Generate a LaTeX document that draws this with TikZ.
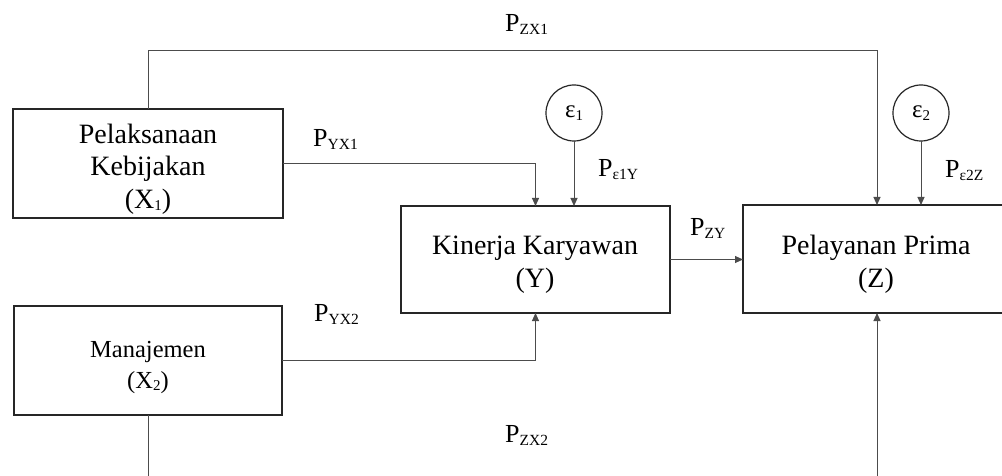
\documentclass[tikz,border=0pt]{standalone}
\usepackage{fontspec}
\setmainfont{Liberation Serif}
\usetikzlibrary{arrows.meta}
\newcommand{\plab}[1]{{\fontsize{26}{26}\selectfont P}\raisebox{-3pt}{\fontsize{15.5}{15.5}\selectfont #1}}
\newcommand{\subn}[1]{\raisebox{-2pt}{\fontsize{15}{15}\selectfont #1}}
\begin{document}
\begin{tikzpicture}[x=1pt,y=-1pt,
  box/.style={draw=black!85,line width=1.5pt,rectangle,inner sep=0pt,outer sep=0pt},
  boxtext/.style={align=center,inner sep=0pt,font=\fontsize{28}{32.5}\selectfont},
  errc/.style={draw=black!85,line width=1.2pt,circle,minimum size=56pt,inner sep=0pt,outer sep=0pt},
  conn/.style={draw=black!70,line width=1pt},
  arr/.style={conn,-{Triangle[length=8pt,width=7pt]}},
  lab/.style={anchor=base west,inner sep=0pt}]
\clip (0,0) rectangle (1002,476);
\fill[white] (0,0) rectangle (1002,476);

% boxes
\node[box,minimum width=270pt,minimum height=109pt] (x1) at (148,163.5) {};
\node[box,minimum width=268pt,minimum height=109pt] (x2) at (148,360.5) {};
\node[box,minimum width=269pt,minimum height=107pt] (y) at (535.5,259.5) {};
\node[box,minimum width=268pt,minimum height=108pt] (z) at (877,259) {};

% box texts
\node[boxtext] (x1t) at (148,169) {Pelaksanaan\\Kebijakan\\(X\subn{1})};
\node[boxtext,font=\fontsize{24.5}{31}\selectfont] (x2t) at (148,367) {Manajemen\\(X\subn{2})};
\node[boxtext] (yt) at (535,264.5) {Kinerja Karyawan\\(Y)};
\node[boxtext] (zt) at (876,264.5) {Pelayanan Prima\\(Z)};

% error circles
\node[errc] (e1) at (574,113) {{\fontsize{25}{25}\selectfont ε}\raisebox{-3pt}{\fontsize{15}{15}\selectfont 1}};
\node[errc] (e2) at (921,113) {{\fontsize{25}{25}\selectfont ε}\raisebox{-3pt}{\fontsize{15}{15}\selectfont 2}};

% connectors
\coordinate (ztop) at (877,51);
\coordinate (x2end) at (148,476);
\coordinate (zend) at (877,476);
\draw[arr] (x1.east) -| (y.north);
\draw[arr] (e1.south) -- (e1.south |- y.north);
\draw[arr] (x1.north) |- (ztop) -- (z.north);
\draw[arr] (e2.south) -- (e2.south |- z.north);
\draw[arr] (y.east) -- (y.east -| z.west);
\draw[arr] (x2.east) -| (y.south);
\draw[conn] (x2.south) -- (x2end);
\draw[arr] (zend) -- (z.south);

% path labels
\node[lab] (pzx1) at (505,32) {\plab{ZX1}};
\node[lab] (pyx1) at (313,147) {\plab{YX1}};
\node[lab] (pe1y) at (598,177) {\plab{ε1Y}};
\node[lab] (pzy) at (690,235) {\plab{ZY}};
\node[lab] (pe2z) at (945,178) {\plab{ε2Z}};
\node[lab] (pyx2) at (314,321) {\plab{YX2}};
\node[lab] (pzx2) at (505,442) {\plab{ZX2}};
\end{tikzpicture}
\end{document}
